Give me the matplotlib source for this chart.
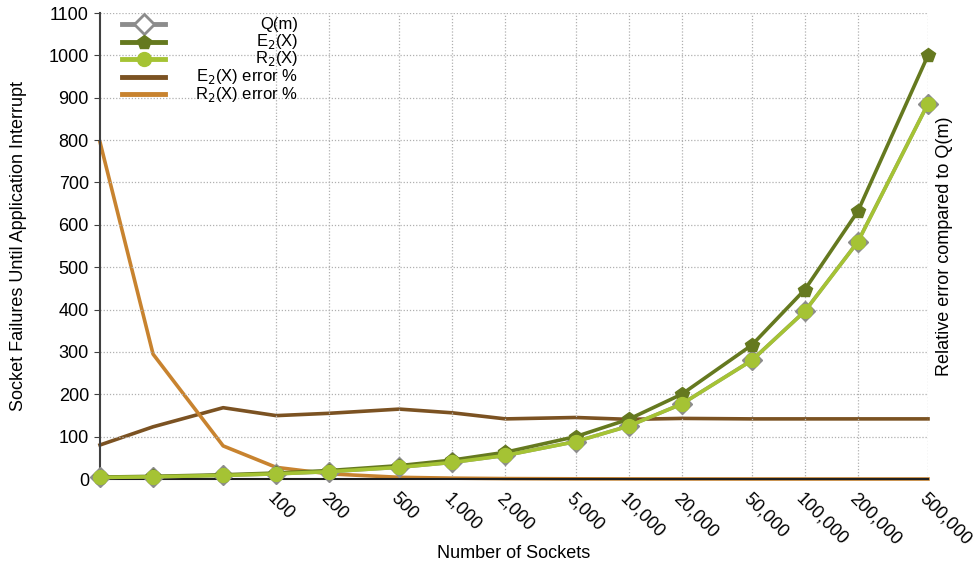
import numpy as np
import matplotlib
matplotlib.use("Agg")
import matplotlib.pyplot as plt
from matplotlib.lines import Line2D

plt.rcParams['font.family'] = ['Liberation Sans', 'DejaVu Sans']

# 資料
sockets = [10, 20, 50, 100, 200, 500, 1000, 2000, 5000, 10000,
           20000, 50000, 100000, 200000, 500000]
tick_values = [100, 200, 500, 1000, 2000, 5000, 10000, 20000,
               50000, 100000, 200000, 500000]
tick_labels = ['100', '200', '500', '1,000', '2,000', '5,000', '10,000',
               '20,000', '50,000', '100,000', '200,000', '500,000']

q_m = [3.7, 5.3, 8.5, 12.2, 17.4, 27.7, 39.3, 55.7, 88.3, 125.0,
       177.0, 280.0, 396.0, 560.0, 886.0]
e2_x = [4.5, 6.3, 10.0, 14.1, 20.0, 31.6, 44.7, 63.2, 100.0, 141.0,
        200.0, 316.0, 447.0, 632.0, 1000.0]
r2_x = [3.6, 5.2, 8.4, 12.1, 17.3, 27.6, 39.2, 55.6, 88.2, 124.9,
        176.9, 279.9, 395.9, 559.9, 885.9]
# 相對誤差 (%)，右軸 0-100
e2_err = [7.3, 11.2, 15.3, 13.6, 14.1, 15.0, 14.2, 12.9, 13.2, 12.8,
          13.0, 12.9, 12.9, 12.9, 12.9]
r2_err = [72.3, 26.8, 7.1, 2.5, 1.1, 0.36, 0.18, 0.09, 0.04, 0.02,
          0.01, 0.0, 0.0, 0.0, 0.0]

c_q = '#8c8c8c'
c_e2 = '#65791f'
c_r2 = '#a5c334'
c_e2err = '#7b5222'
c_r2err = '#c8832f'

FS = 13

fig = plt.figure(figsize=(9.76, 5.69), dpi=100)
ax = fig.add_axes([100 / 976, 90 / 569, 828 / 976, 466 / 569])
ax2 = ax.twinx()
ax.set_zorder(ax2.get_zorder() + 1)
ax.patch.set_visible(False)

# 誤差曲線（右軸）
ax2.plot(sockets, e2_err, color=c_e2err, lw=2.6, clip_on=False)
ax2.plot(sockets, r2_err, color=c_r2err, lw=2.6, clip_on=False)
ax2.set_ylim(0, 100)
ax2.set_yticks([])
for s in ax2.spines.values():
    s.set_visible(False)
ax2.set_ylabel('Relative error compared to Q(m)', fontsize=FS)
ax2.yaxis.set_label_coords(1.01, 0.5)

# 主曲線（左軸）
ax.plot(sockets, q_m, color=c_q, lw=2.6, marker='D', ms=10,
        mfc=c_q, mec=c_q, clip_on=False, zorder=3)
ax.plot(sockets, e2_x, color=c_e2, lw=2.6, marker='p', ms=10,
        mfc=c_e2, mec=c_e2, clip_on=False, zorder=4)
ax.plot(sockets, r2_x, color=c_r2, lw=2.6, marker='o', ms=10,
        mfc=c_r2, mec=c_r2, clip_on=False, zorder=5)

ax.set_xscale('log')
ax.set_xlim(10, 500000)
ax.set_ylim(0, 1100)
ax.set_yticks(np.arange(0, 1101, 100))
ax.set_xticks(tick_values)
ax.set_xticklabels(tick_labels, rotation=-45, ha='left', va='top',
                   rotation_mode='anchor')
ax.xaxis.set_minor_locator(matplotlib.ticker.NullLocator())
ax.tick_params(axis='x', length=0, pad=8, labelsize=FS)
ax.tick_params(axis='y', length=4, direction='out', color='#404040',
               labelsize=FS, pad=4)

ax.grid(True, which='major', color='#b0b0b0', ls=(0, (1, 1.5)), lw=0.9)
ax.set_axisbelow(True)
for side in ['top', 'right']:
    ax.spines[side].set_visible(False)
ax.spines['left'].set_color('#404040')
ax.spines['left'].set_linewidth(1.5)
ax.spines['bottom'].set_color('#202020')
ax.spines['bottom'].set_linewidth(1.5)

ax.set_xlabel('Number of Sockets', fontsize=FS)
ax.xaxis.set_label_coords(0.5, -0.142)
ax.set_ylabel('Socket Failures Until Application Interrupt', fontsize=FS)
ax.yaxis.set_label_coords(-0.088, 0.5)

# 圖例（手動繪製，文字靠右對齊）
legend_items = [
    ('Q(m)', dict(color=c_q, marker='D', ms=10, mfc='white', mec=c_q, mew=2)),
    ('E$_2$(X)', dict(color=c_e2, marker='p', ms=10, mfc=c_e2, mec=c_e2)),
    ('R$_2$(X)', dict(color=c_r2, marker='o', ms=10, mfc=c_r2, mec=c_r2)),
    ('E$_2$(X) error %', dict(color=c_e2err)),
    ('R$_2$(X) error %', dict(color=c_r2err)),
]
for i, (label, style) in enumerate(legend_items):
    y = 1 - (24 + 17.5 * i) / 569
    fig.add_artist(Line2D([122 / 976, 165 / 976], [y, y], lw=3.5,
                          color=style['color']))
    if 'marker' in style:
        fig.add_artist(Line2D([143.5 / 976], [y], lw=0, marker=style['marker'],
                              ms=style['ms'], mfc=style['mfc'], mec=style['mec'],
                              mew=style.get('mew', 1)))
    fig.text(298 / 976, y, label, ha='right', va='center', fontsize=12)

fig.savefig('out.png', dpi=100)
